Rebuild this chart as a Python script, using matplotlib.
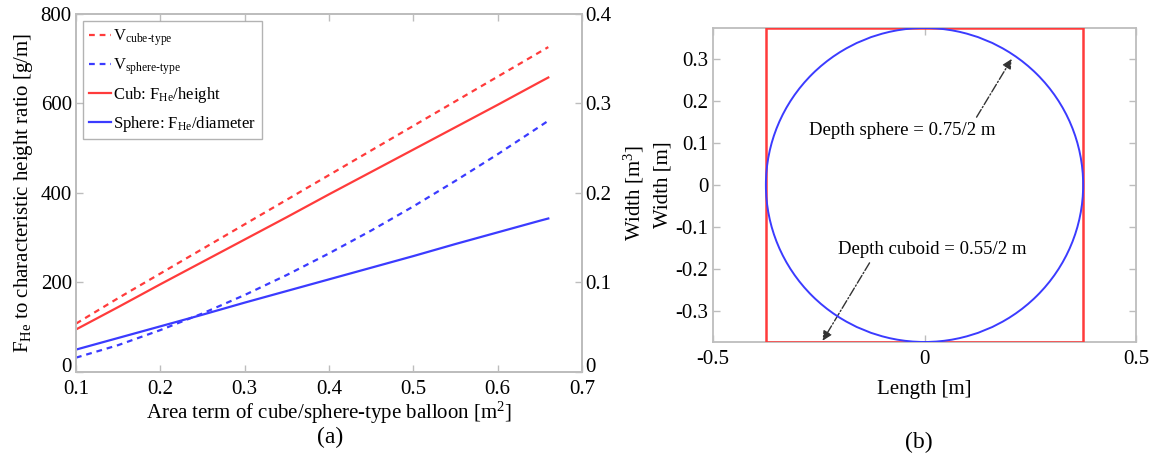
import matplotlib
matplotlib.use("Agg")
import matplotlib.pyplot as plt
from matplotlib.patches import Circle, Rectangle
from matplotlib.transforms import ScaledTranslation

plt.rcParams["font.family"] = ["Liberation Serif", "DejaVu Serif"]
plt.rcParams["mathtext.fontset"] = "custom"
plt.rcParams["mathtext.rm"] = "Liberation Serif"
plt.rcParams["mathtext.it"] = "Liberation Serif:italic"
plt.rcParams["mathtext.bf"] = "Liberation Serif:bold"

# ── (a) data ────────────────────────────────────────────────────────────────
area = [0.10, 0.15, 0.20, 0.25, 0.30, 0.35, 0.40, 0.45, 0.50, 0.55, 0.60, 0.65, 0.66]
v_cube = [0.054, 0.0825, 0.110, 0.1375, 0.165, 0.1925, 0.220, 0.2475, 0.275,
          0.3025, 0.330, 0.3575, 0.363]                      # right axis [m^3]
v_sphere = [0.016, 0.030, 0.0468, 0.0654, 0.086, 0.1084, 0.1325, 0.158, 0.185,
            0.2136, 0.2433, 0.2744, 0.2807]                  # right axis [m^3]
cub_ratio = [95, 145, 196, 246, 296, 346, 397, 447, 497, 547, 597, 648, 658]
sphere_ratio = [50, 76, 102, 128, 155, 181, 207, 233, 259, 286, 312, 338, 343]

# ── (b) shapes ──────────────────────────────────────────────────────────────
cuboid_half = 0.75 / 2
sphere_radius = 0.75 / 2

RED = "#ff3b3b"
BLUE = "#3b3bff"
GRID = "#bdbdbd"
DASH = (0, (2.6, 2.2))
FS = 15

fig = plt.figure(figsize=(11.53, 4.58), dpi=100)
ax = fig.add_axes([0.0659, 0.1878, 0.4389, 0.7817])
ax2 = ax.twinx()

ax2.plot(area, v_cube, color=RED, lw=1.6, ls=DASH)
ax2.plot(area, v_sphere, color=BLUE, lw=1.6, ls=DASH)
ax.plot(area, cub_ratio, color=RED, lw=1.6)
ax.plot(area, sphere_ratio, color=BLUE, lw=1.6)

ax.set_xlim(0.1, 0.7)
ax.set_ylim(0, 800)
ax2.set_ylim(0, 0.4)
ax.set_xticks([0.1, 0.2, 0.3, 0.4, 0.5, 0.6, 0.7])
ax.set_xticklabels(["0.1", "0.2", "0.3", "0.4", "0.5", "0.6", "0.7"])
ax.set_yticks([0, 200, 400, 600, 800])
ax2.set_yticks([0, 0.1, 0.2, 0.3, 0.4])
ax2.set_yticklabels(["0", "0.1", "0.2", "0.3", "0.4"])

for a in (ax, ax2):
    for s in a.spines.values():
        s.set_edgecolor(GRID)
        s.set_linewidth(1.3)
    a.tick_params(direction="in", colors=GRID, labelcolor="black",
                  labelsize=FS, length=5, width=1)
ax.tick_params(axis="x", top=True, pad=6)
ax.tick_params(axis="y", pad=3)
ax2.tick_params(axis="y", pad=2)

# lift the "0" labels a little so they clear the x tick labels (as in the original)
lift = ScaledTranslation(0, 5 / 72, fig.dpi_scale_trans)
ax.yaxis.get_major_ticks()[0].label1.set_transform(
    ax.yaxis.get_major_ticks()[0].label1.get_transform() + lift)
ax2.yaxis.get_major_ticks()[0].label2.set_transform(
    ax2.yaxis.get_major_ticks()[0].label2.get_transform() + lift)

ax.set_xlabel("Area term of cube/sphere-type balloon [m$^{2}$]", fontsize=FS, labelpad=0)
ax.set_ylabel("F$_{\\mathrm{He}}$ to characteristic height ratio [g/m]", fontsize=FS, labelpad=4)
ax2.set_ylabel("Width [m$^{3}$]", fontsize=FS, labelpad=8)

handles = [
    plt.Line2D([], [], color=RED, lw=1.6, ls=DASH),
    plt.Line2D([], [], color=BLUE, lw=1.6, ls=DASH),
    plt.Line2D([], [], color=RED, lw=1.6),
    plt.Line2D([], [], color=BLUE, lw=1.6),
]
labels = [
    "V$_{\\text{cube-type}}$",
    "V$_{\\text{sphere-type}}$",
    "Cub: F$_{\\mathrm{He}}$/height",
    "Sphere: F$_{\\mathrm{He}}$/diameter",
]
leg = ax.legend(handles, labels, loc="upper left", bbox_to_anchor=(0.0, 1.0),
                fontsize=12, frameon=True, fancybox=False, handlelength=1.3,
                handletextpad=0.15, labelspacing=0.5, borderpad=0.35,
                borderaxespad=0.45)
leg.get_frame().set_edgecolor("#a0a0a0")
leg.get_frame().set_linewidth(1.0)

fig.text(0.2862, 0.045, "(a)", fontsize=17, ha="center", va="center")

# ── (b) ─────────────────────────────────────────────────────────────────────
bx = fig.add_axes([0.6184, 0.2533, 0.3669, 0.6856])
bx.add_patch(Rectangle((-cuboid_half, -cuboid_half), 2 * cuboid_half, 2 * cuboid_half,
                       fill=False, edgecolor=RED, lw=1.8, zorder=3))
bx.add_patch(Circle((0, 0), sphere_radius, fill=False, edgecolor=BLUE, lw=1.4, zorder=4))
bx.set_xlim(-0.5, 0.5)
bx.set_ylim(-0.375, 0.375)
bx.set_xticks([-0.5, 0, 0.5])
bx.set_xticklabels(["-0.5", "0", "0.5"])
bx.set_yticks([-0.3, -0.2, -0.1, 0, 0.1, 0.2, 0.3])
bx.set_yticklabels(["-0.3", "-0.2", "-0.1", "0", "0.1", "0.2", "0.3"])
for s in bx.spines.values():
    s.set_edgecolor(GRID)
    s.set_linewidth(1.3)
bx.tick_params(direction="in", colors=GRID, labelcolor="black", labelsize=FS,
               length=5, width=1, top=True, right=True)
bx.tick_params(axis="x", pad=6)
bx.set_xlabel("Length [m]", fontsize=FS, labelpad=8)
bx.set_ylabel("Width [m]", fontsize=FS, labelpad=2)

arrow = dict(arrowstyle="-|>", color="#333333", lw=1.0, ls="-.",
             mutation_scale=14, shrinkA=0, shrinkB=0)
bx.annotate("", xy=(0.206, 0.301), xytext=(0.123, 0.162), arrowprops=arrow)
bx.text(-0.052, 0.131, "Depth sphere = 0.75/2 m", fontsize=13.5, ha="center", va="center")
bx.annotate("", xy=(-0.241, -0.372), xytext=(-0.130, -0.186), arrowprops=arrow)
bx.text(0.019, -0.153, "Depth cuboid = 0.55/2 m", fontsize=13.5, ha="center", va="center")

fig.text(0.797, 0.033, "(b)", fontsize=17, ha="center", va="center")

fig.savefig("out.png", dpi=100)
